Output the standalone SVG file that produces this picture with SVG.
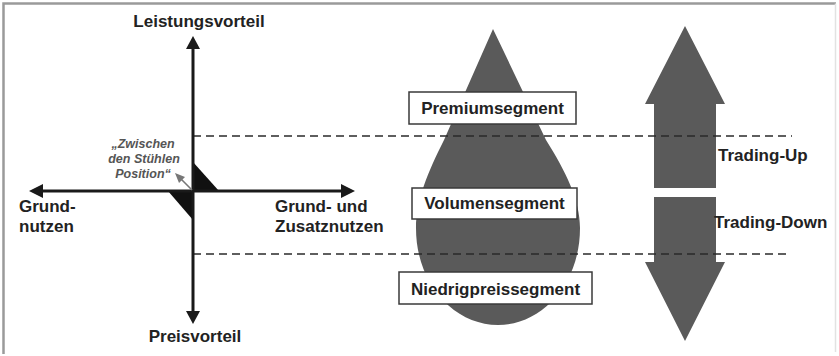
<svg xmlns="http://www.w3.org/2000/svg" width="839" height="356" viewBox="0 0 839 356">
  <style>
    .lbl { font-family: "Liberation Sans", Arial, sans-serif; font-weight: bold; font-size: 17px; fill: #222; }
    .note { font-family: "Liberation Sans", Arial, sans-serif; font-weight: bold; font-style: italic; font-size: 12.5px; fill: #555; }
    .axis { stroke: #1a1a1a; stroke-width: 3; fill: none; }
    .head { fill: #1a1a1a; }
    .dash { stroke: #2a2a2a; stroke-width: 1.6; stroke-dasharray: 8 5; fill: none; }
    .shape { fill: #5a5a5a; }
    .box { fill: #fff; stroke: #3a3a3a; stroke-width: 1.5; }
  </style>

  <!-- frame -->
  <rect x="0" y="0" width="839" height="356" fill="#fff"/>
  <path d="M3.5,354 L3.5,3.5 L836,3.5" stroke="#9a9a9a" stroke-width="2.5" fill="none"/>
  <path d="M835.5,3.5 L835.5,352" stroke="#e2e2e2" stroke-width="1.5" fill="none"/>

  <!-- segment drop -->
  <g id="drop">
    <path class="shape" d="M493,29 L546,140 C566,172 580,200 580,228 C580,285 541,325 498,325 C455,325 416,285 416,228 C416,200 428,172 444,140 Z"/>
  </g>

  <!-- trading arrows -->
  <g id="trading-up">
    <polygon class="shape" points="685,26 725,104 716,104 716,188 654,188 654,104 645,104"/>
  </g>
  <g id="trading-down">
    <polygon class="shape" points="654,197 716,197 716,262 725,262 685,341 645,262 654,262"/>
  </g>

  <!-- positioning cross -->
  <g id="cross">
    <polygon fill="#111" points="193,162 219,191 193,191"/>
    <polygon fill="#111" points="168,191 193,191 193,220"/>
  </g>

  <g id="connectors">
    <line class="dash" x1="193" y1="136" x2="792" y2="136"/>
    <line class="dash" x1="193" y1="254" x2="790" y2="254"/>
    <line class="axis" x1="193" y1="46" x2="193" y2="314"/>
    <polygon class="head" points="193,36 200,49 186,49"/>
    <polygon class="head" points="193,324 200,311 186,311"/>
    <line class="axis" x1="40" y1="191" x2="344" y2="191"/>
    <polygon class="head" points="29,191 43,184 43,198"/>
    <polygon class="head" points="355,191 341,184 341,198"/>
    <line x1="192" y1="190" x2="181" y2="179" stroke="#777" stroke-width="1.6"/>
    <polygon fill="#777" points="175,173 185,177 179,183"/>
  </g>

  <!-- axis labels -->
  <g id="label-top"><text class="lbl" x="199" y="27" text-anchor="middle">Leistungsvorteil</text></g>
  <g id="label-bottom"><text class="lbl" x="195" y="342" text-anchor="middle">Preisvorteil</text></g>
  <g id="label-left">
    <text class="lbl" x="19" y="212">Grund-</text>
    <text class="lbl" x="19" y="232">nutzen</text>
  </g>
  <g id="label-right">
    <text class="lbl" x="275" y="212">Grund- und</text>
    <text class="lbl" x="275" y="232">Zusatznutzen</text>
  </g>
  <g id="label-position">
    <text class="note" x="143" y="148" text-anchor="middle">„Zwischen</text>
    <text class="note" x="144" y="163" text-anchor="middle">den Stühlen</text>
    <text class="note" x="143" y="178" text-anchor="middle">Position“</text>
  </g>

  <!-- segment boxes -->
  <g id="premium">
    <rect class="box" x="409" y="92" width="167" height="32"/>
    <text class="lbl" x="492.5" y="114" text-anchor="middle">Premiumsegment</text>
  </g>
  <g id="volumen">
    <rect class="box" x="412" y="188" width="165" height="31"/>
    <text class="lbl" x="494.5" y="209" text-anchor="middle">Volumensegment</text>
  </g>
  <g id="niedrigpreis">
    <rect class="box" x="399" y="272" width="193" height="32"/>
    <text class="lbl" x="495.5" y="295" text-anchor="middle">Niedrigpreissegment</text>
  </g>

  <!-- trading labels -->
  <g id="label-up"><text class="lbl" x="718" y="161">Trading-Up</text></g>
  <g id="label-down"><text class="lbl" x="714" y="228">Trading-Down</text></g>
</svg>
